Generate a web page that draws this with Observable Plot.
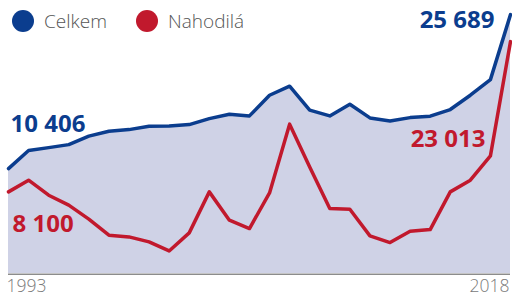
<!DOCTYPE html>
<html><head><meta charset="utf-8">
<script src="https://cdn.jsdelivr.net/npm/d3@7"></script>
<script src="https://cdn.jsdelivr.net/npm/@observablehq/plot@0.6"></script>
<style>
body{margin:0;background:#fff;font-family:"Open Sans",sans-serif;}
#wrap{position:relative;width:512px;height:297px;overflow:hidden;}
.item{position:absolute;top:10px;display:flex;align-items:center;height:22px;font-size:19px;font-weight:300;color:#555;}
.dot{width:22px;height:22px;border-radius:50%;margin-right:10px;}
#chart{position:absolute;left:0;top:0;}
</style></head>
<body>
<div id="wrap">
  <div id="chart"></div>
  <div class="item" style="left:12px"><span class="dot" style="background:#0b3d8e"></span><span>Celkem</span></div>
  <div class="item" style="left:136px"><span class="dot" style="background:#c1192d"></span><span>Nahodilá</span></div>
</div>
<script>
const years = [1993,1994,1995,1996,1997,1998,1999,2000,2001,2002,2003,2004,2005,2006,2007,2008,2009,2010,2011,2012,2013,2014,2015,2016,2017,2018];
const celkem = [10406,12200,12490,12790,13630,14120,14280,14620,14640,14780,15370,15810,15640,17690,18590,16210,15640,16800,15440,15140,15470,15610,16270,17690,19240,25689];
const nahodila = [8100,9260,7770,6780,5390,3800,3630,3140,2240,4030,8100,5290,4460,8000,14820,10580,6440,6380,3730,3070,4200,4360,8100,9260,11670,23013];
const tickYears = [1993, 2018];

const data = years.map((y, i) => ({year: y, celkem: celkem[i], nahodila: nahodila[i]}));
const first = data[0], last = data[data.length - 1];
const blue = "#0b3d8e", red = "#c1192d";
const fmt = v => d3.format(",")(v).replace(/,/g, " ");
const lab = {fontSize: 24, fontWeight: 700, lineAnchor: "middle", letterSpacing: "-0.2px"};

const chart = Plot.plot({
  width: 512, height: 297,
  marginLeft: 8, marginRight: 2, marginTop: 11, marginBottom: 24,
  style: {fontFamily: "'Open Sans', sans-serif", background: "transparent"},
  x: {domain: [1993, 2018], axis: null},
  y: {domain: [0, 26000], axis: null},
  marks: [
    Plot.areaY(data, {x: "year", y: "celkem", fill: "#cfd2e6"}),
    Plot.ruleY([0], {stroke: "#8c8c8c", strokeWidth: 1.5, dy: 0.8}),
    Plot.line(data, {x: "year", y: "nahodila", stroke: red, strokeWidth: 3.5}),
    Plot.line(data, {x: "year", y: "celkem", stroke: blue, strokeWidth: 3.5}),
    Plot.text([first], {x: "year", y: "celkem", text: d => fmt(d.celkem), fill: blue, textAnchor: "start", dx: 2, dy: -44, ...lab}),
    Plot.text([first], {x: "year", y: "nahodila", text: d => fmt(d.nahodila), fill: red, textAnchor: "start", dx: 4, dy: 32, ...lab}),
    Plot.text([last], {x: "year", y: "celkem", text: d => fmt(d.celkem), fill: blue, textAnchor: "end", dx: -16, dy: 6, ...lab}),
    Plot.text([last], {x: "year", y: "nahodila", text: d => fmt(d.nahodila), fill: red, textAnchor: "end", dx: -25, dy: 98, ...lab}),
    Plot.axisX({ticks: [tickYears[0]], label: null, tickSize: 0, tickPadding: 6, textAnchor: "start", dx: -2, fontSize: 17.5, fill: "#7a7a7a", fontWeight: 300, tickFormat: d => String(d)}),
    Plot.axisX({ticks: [tickYears[1]], label: null, tickSize: 0, tickPadding: 6, textAnchor: "end", dx: -1, fontSize: 17.5, fill: "#7a7a7a", fontWeight: 300, tickFormat: d => String(d)})
  ]
});
document.getElementById("chart").append(chart);
</script>
</body></html>
